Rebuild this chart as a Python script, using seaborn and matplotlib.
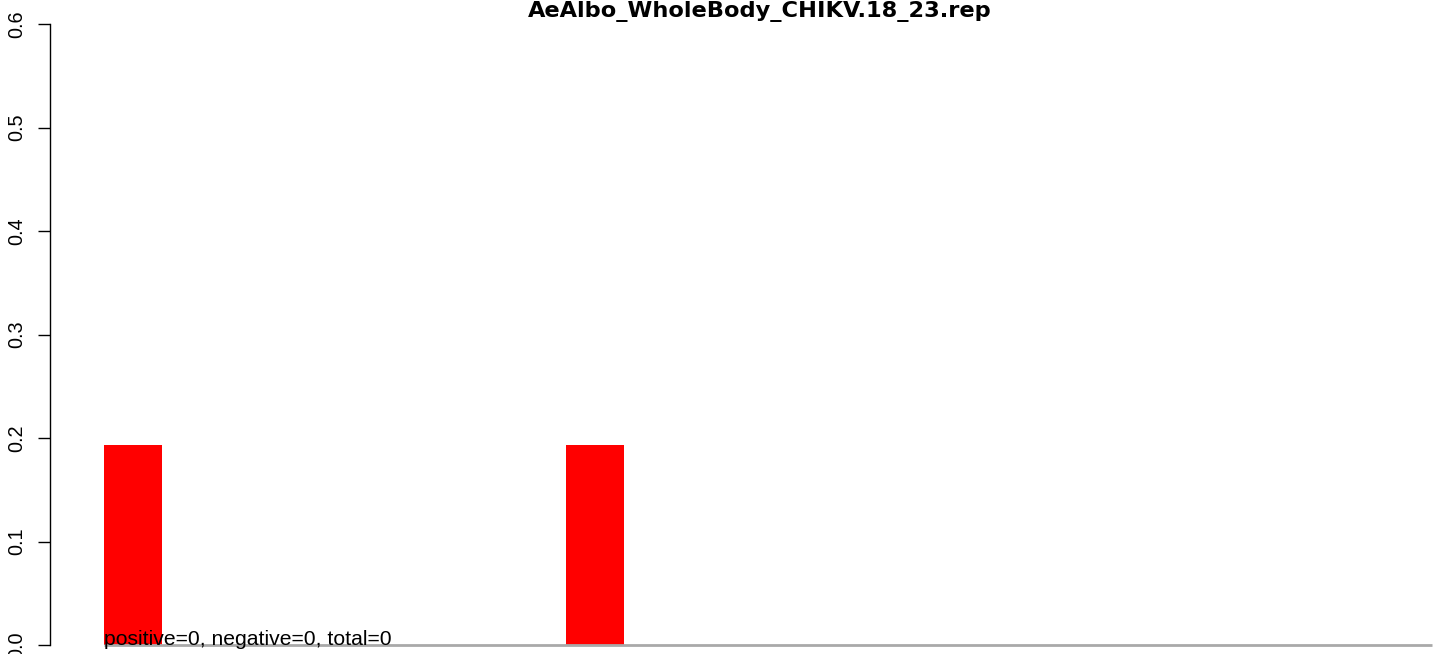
import matplotlib
matplotlib.use("Agg")
import matplotlib.pyplot as plt
import seaborn as sns
import pandas as pd

# read counts per category (23 slots, only two non-zero)
categories = [str(i) for i in range(1, 24)]
values = [0.193, 0, 0, 0, 0, 0, 0, 0, 0.193, 0, 0, 0, 0, 0, 0, 0, 0, 0, 0, 0, 0, 0, 0]
title = "AeAlbo_WholeBody_CHIKV.18_23.rep"
note = "positive=0, negative=0, total=0"
y_ticks = [0.0, 0.1, 0.2, 0.3, 0.4, 0.5, 0.6]

df = pd.DataFrame({"cat": categories, "val": values})

sns.set_style("white")
plt.rcParams["font.family"] = ["Liberation Sans", "DejaVu Sans"]
plt.rcParams["text.color"] = "black"

W, H = 1444, 654
fig = plt.figure(figsize=(W / 100, H / 100), dpi=100)
ax = fig.add_axes([50 / W, (H - 645) / H, (1432 - 50) / W, (645 - 24) / H])

sns.barplot(data=df, x="cat", y="val", order=categories, color="red",
            saturation=1, width=1, linewidth=0, ax=ax)

ax.set_xlim(-1.435, len(categories) - 0.5)
ax.set_ylim(0, 0.6)
# grey baseline under the bars
ax.hlines(0, -0.5, len(categories) - 0.5, color="#a9a9a9", lw=2, zorder=3, clip_on=False)

ax.set_xlabel("")
ax.set_ylabel("")
ax.set_xticks([])
ax.set_yticks(y_ticks)
ax.set_yticklabels([f"{t:.1f}" for t in y_ticks], rotation=90, va="center", fontsize=14.3)
ax.tick_params(axis="y", direction="out", length=8.6, width=1, pad=8.5,
               colors="black", labelcolor="black", left=True)
for s in ["top", "right", "bottom"]:
    ax.spines[s].set_visible(False)
ax.spines["left"].set_color("black")
ax.spines["left"].set_linewidth(1)

ax.text(-0.5, 0, note, ha="left", va="baseline", fontsize=15.2, color="black", zorder=4)
fig.text(760 / W, 1 - 17.5 / H, title, ha="center", va="baseline", fontsize=16.2,
         fontweight="bold", color="black", family=["DejaVu Sans"])

fig.savefig("out.png", dpi=100)
